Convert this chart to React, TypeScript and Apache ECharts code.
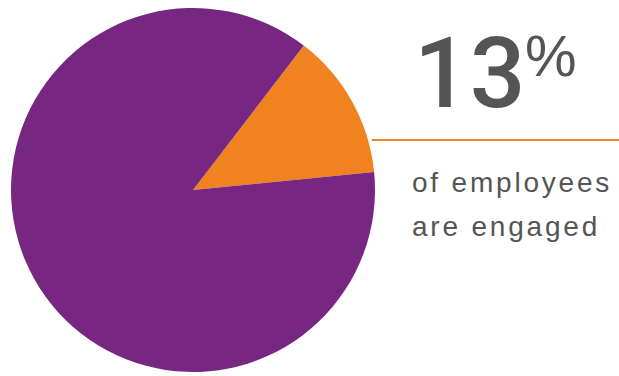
import React, { useEffect, useRef } from "react";
import * as echarts from "echarts";

const categories = ["Engaged", "Not engaged"];
const values = [13, 87];
const colors = ["#f08220", "#772781"];
const headline = "13";
const headlineUnit = "%";
const captionLines = ["of employees", "are engaged"];

export default function App() {
  const ref = useRef<HTMLDivElement>(null);
  useEffect(() => {
    if (!ref.current) return;
    const chart = echarts.init(ref.current, null, { renderer: "svg" });
    chart.setOption({
      animation: false,
      backgroundColor: "#ffffff",
      series: [
        {
          type: "pie",
          center: [193, 190],
          radius: 182,
          startAngle: 52.5,
          clockwise: true,
          label: { show: false },
          labelLine: { show: false },
          silent: true,
          data: categories.map((c, i) => ({
            name: c,
            value: values[i],
            itemStyle: { color: colors[i] },
          })),
        },
      ],
      graphic: [
        {
          type: "line",
          shape: { x1: 372, y1: 140, x2: 619, y2: 140 },
          style: { stroke: "#e9892e", lineWidth: 2 },
        },
        {
          type: "text",
          x: 414,
          y: 122,
          style: {
            text: headline,
            fontFamily: "Roboto, sans-serif",
            fontWeight: 500,
            fontSize: 98,
            fill: "#555555",
            verticalAlign: "bottom",
          },
        },
        {
          type: "text",
          x: 525,
          y: 84,
          style: {
            text: headlineUnit,
            fontFamily: "Liberation Sans, Arial, sans-serif",
            fontSize: 58,
            fill: "#555555",
            verticalAlign: "bottom",
          },
        },
        {
          type: "text",
          x: 412,
          y: 168,
          style: {
            text: captionLines[0],
            fontFamily: "Liberation Sans, Arial, sans-serif",
            fontSize: 28,
            fill: "#555555",
            verticalAlign: "top",
          },
        },
        {
          type: "text",
          x: 412,
          y: 212,
          style: {
            text: captionLines[1],
            fontFamily: "Liberation Sans, Arial, sans-serif",
            fontSize: 28,
            fill: "#555555",
            verticalAlign: "top",
          },
        },
      ],
    });
    return () => chart.dispose();
  }, []);
  return (
    <>
      <style>{`.chart-root text[style*="28px"] { letter-spacing: 2.8px; }`}</style>
      <div
        ref={ref}
        className="chart-root"
        style={{ position: "fixed", left: 0, top: 0, width: 619, height: 376 }}
      />
    </>
  );
}
